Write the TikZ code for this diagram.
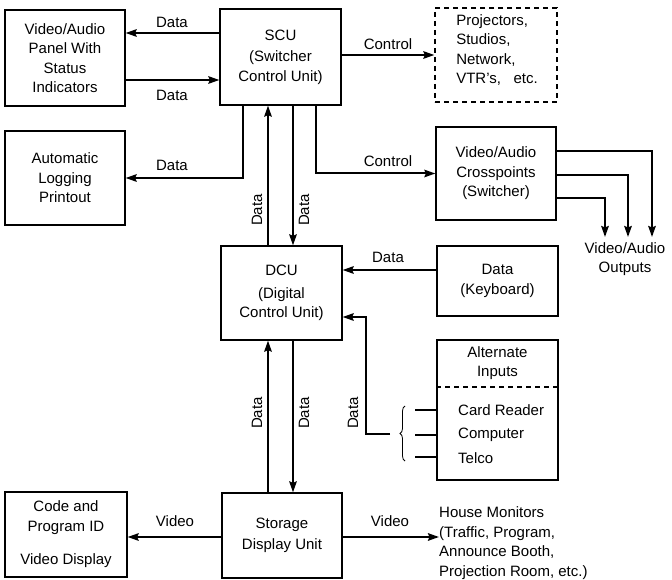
\documentclass[tikz,border=0pt]{standalone}
\usepackage{fontspec}
\setmainfont{Liberation Sans}
\usetikzlibrary{arrows.meta,decorations.pathreplacing}
\begin{document}
\begin{tikzpicture}[x=1pt,y=-1pt,
  every node/.style={font=\fontsize{15}{19.5}\selectfont},
  box/.style={draw, line width=1.3pt, inner sep=0pt, align=center},
  dbox/.style={box, dash pattern=on 5pt off 4pt},
  conn/.style={line width=2pt, -{Stealth[length=11pt,width=7.5pt,inset=1.5pt]}},
  wire/.style={line width=2pt},
  lbl/.style={inner sep=1pt},
]
\useasboundingbox (0,0) rectangle (672,580);

% blocks
\node[box, minimum width=120pt, minimum height=96pt] (panel) at (65,58)
  {Video/Audio\\Panel With\\Status\\Indicators};
\node[box, minimum width=121pt, minimum height=96pt] (scu) at (280.5,57)
  {SCU\\[2pt](Switcher\\Control Unit)};
\node[dbox, minimum width=122pt, minimum height=94pt] (proj) at (496,55) {};
\node[align=left, inner sep=0pt] at (497,50)
  {Projectors,\\Studios,\\Network,\\VTR's,~~ etc.};
\node[box, minimum width=120pt, minimum height=94pt] (log) at (65,178)
  {Automatic\\Logging\\Printout};
\node[box, minimum width=120pt, minimum height=93pt] (xp) at (496,173.5)
  {Video/Audio\\Crosspoints\\(Switcher)};
\node[box, minimum width=121pt, minimum height=94pt] (dcu) at (281.5,293)
  {DCU\\[3pt](Digital\\Control Unit)};
\node[box, minimum width=121pt, minimum height=70pt] (kbd) at (497.5,281)
  {Data\\(Keyboard)};
\node[box, minimum width=121pt, minimum height=140pt] (alt) at (497.5,410) {};
\node[box, minimum width=122pt, minimum height=85pt] (code) at (66,534.5)
  {Code and\\Program ID\\[14pt]Video Display};
\node[box, minimum width=120pt, minimum height=85pt] (sdu) at (282,535.5)
  {Storage\\[2pt]Display Unit};

% alternate inputs contents
\draw[line width=1.3pt, dash pattern=on 5pt off 4pt] (alt.west |- 0,387) -- (alt.east |- 0,387);
\node[align=center, inner sep=0pt] (althead) at (497.5,363) {Alternate\\Inputs};
\node[anchor=west, inner sep=0pt] (card) at (458,410) {Card Reader};
\node[anchor=west, inner sep=0pt] (comp) at (458,435) {Computer};
\node[anchor=west, inner sep=0pt] (telco) at (458,458) {Telco};

% panel <-> SCU
\draw[conn] (scu.west |- 0,33) -- (panel.east |- 0,33);
\draw[conn] (panel.east |- 0,80) -- (scu.west |- 0,80);
\node[lbl] at (172,22) {Data};
\node[lbl] at (172,95) {Data};

% SCU -> logging
\draw[conn] (scu.south -| 243,0) |- (log.east);
\node[lbl] at (172,165) {Data};

% SCU -> projectors
\draw[conn] (scu.east |- proj.west) -- (proj.west);
\node[lbl] at (388,44) {Control};

% SCU -> crosspoints
\draw[conn] (scu.south -| 316,0) |- (xp.west);
\node[lbl] at (388,161) {Control};

% crosspoints -> outputs
\coordinate (o1) at (605,237);
\coordinate (o2) at (628,237);
\coordinate (o3) at (652,237);
\draw[conn] (xp.east |- 0,198) -| (o1);
\draw[conn] (xp.east |- 0,175) -| (o2);
\draw[conn] (xp.east |- 0,151) -| (o3);
\node[align=center, inner sep=0pt] (outs) at (625,259) {Video/Audio\\Outputs};

% SCU <-> DCU
\draw[conn] (dcu.north -| 268,0) -- (scu.south -| 268,0);
\draw[conn] (scu.south -| 293,0) -- (dcu.north -| 293,0);
\node[lbl, rotate=90] at (257,210) {Data};
\node[lbl, rotate=90] at (304,210) {Data};

% keyboard -> DCU
\draw[conn] (kbd.west |- 0,270) -- (dcu.east |- 0,270);
\node[lbl] at (388,257) {Data};

% alternate inputs -> DCU
\coordinate (c1) at (415,410);
\coordinate (c2) at (415,435);
\coordinate (c3) at (415,457);
\draw[wire] (c1) -- (alt.west |- c1);
\draw[wire] (c2) -- (alt.west |- c2);
\draw[wire] (c3) -- (alt.west |- c3);
\draw[line width=0.8pt, decorate, decoration={brace, amplitude=5pt}] (405,461) -- (405,406);
\coordinate (bt) at (390,434);
\draw[conn] (bt) -- (bt -| 366,0) |- (dcu.east |- 0,317);
\node[lbl, rotate=90] at (353,413) {Data};

% DCU <-> storage display unit
\draw[conn] (sdu.north -| 268,0) -- (dcu.south -| 268,0);
\draw[conn] (dcu.south -| 293,0) -- (sdu.north -| 293,0);
\node[lbl, rotate=90] at (257,413) {Data};
\node[lbl, rotate=90] at (304,413) {Data};

% storage display unit outputs
\draw[conn] (sdu.west |- 0,537) -- (code.east |- 0,537);
\node[lbl] at (175,521) {Video};
\node[anchor=west, align=left, inner sep=0pt] (house) at (439,543)
  {House Monitors\\(Traffic, Program,\\Announce Booth,\\Projection Room, etc.)};
\draw[conn] (sdu.east |- 0,537) -- (house.west |- 0,537);
\node[lbl] at (390,521) {Video};
\end{tikzpicture}
\end{document}
